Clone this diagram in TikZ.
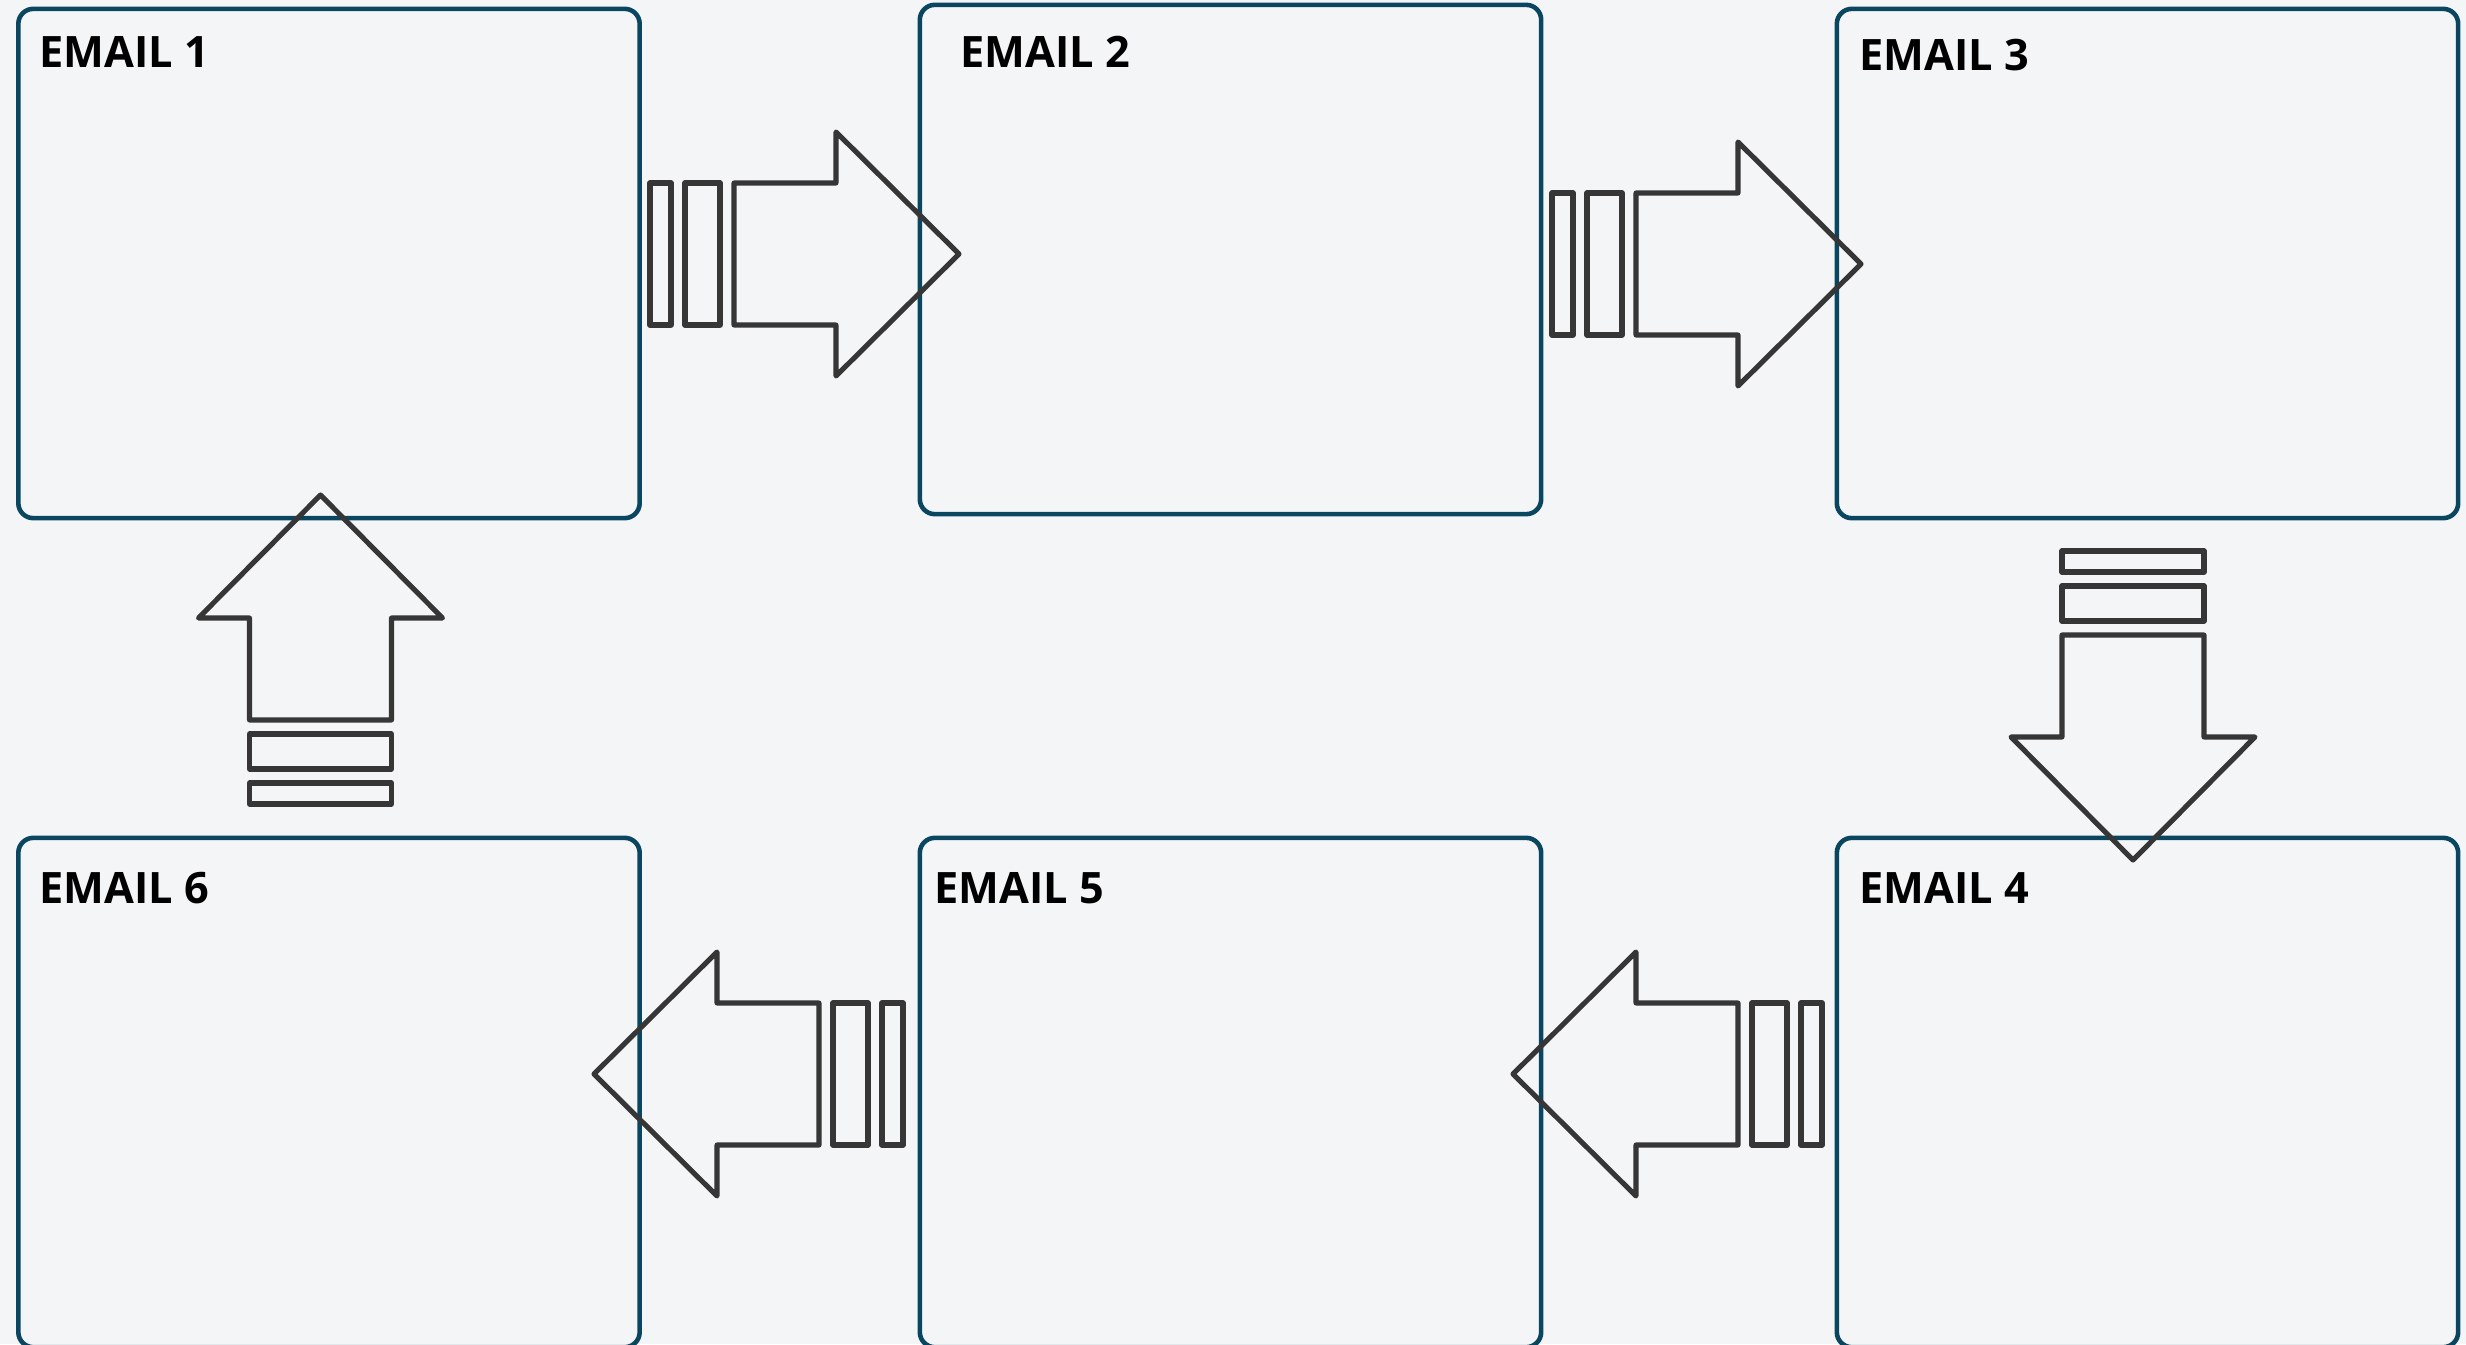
\documentclass[tikz,border=0pt]{standalone}
\usepackage{fontspec}
\setsansfont{Open Sans}
\usetikzlibrary{positioning, calc}
\definecolor{boxblue}{HTML}{0B4660}
\definecolor{paper}{HTML}{F3F5F7}
\definecolor{arrowgray}{HTML}{363636}

% block arrow with two bars behind it, pointing right, origin at the back bar
\tikzset{
  flow/.pic={
    \draw[outline] (0,-71) rectangle (21,71);
    \draw[outline] (35,-71) rectangle (70,71);
    \draw[outline] (84,-71) -- (186,-71) -- (186,-122) -- (309,0)
                   -- (186,122) -- (186,71) -- (84,71) -- cycle;
  }
}

\begin{document}
\begin{tikzpicture}[x=0.01cm, y=0.01cm,
    mailbox/.style={draw=boxblue, line width=1.3pt, rounded corners=0.15cm,
                    minimum width=6.21cm, minimum height=5.09cm},
    title/.style={anchor=base west, inner sep=0pt,
                  font=\sffamily\bfseries\fontsize{12.3}{14}\selectfont},
    outline/.style={draw=arrowgray, line width=1.45pt, line join=round}]
    \useasboundingbox (0,0) rectangle (2466,1344);
    \fill[paper] (0,0) rectangle (2466,1344);

    % top row
    \node[mailbox] (e1) at (329,1080.5) {};
    \node[mailbox] (e2) at (1230.5,1084.5) {};
    \node[mailbox] (e3) at (2147.5,1080.5) {};
    % bottom row
    \node[mailbox] (e4) at (2147.5,251.5) {};
    \node[mailbox] (e5) at (1230.5,251.5) {};
    \node[mailbox] (e6) at (329,251.5) {};

    \node[title] (t1) at (39,1276) {EMAIL 1};
    \node[title] (t2) at (960,1276) {EMAIL 2};
    \node[title] (t3) at (1859,1273) {EMAIL 3};
    \node[title] (t4) at (1859,441) {EMAIL 4};
    \node[title] (t5) at (934,441) {EMAIL 5};
    \node[title] (t6) at (39,441) {EMAIL 6};

    % arrows going round the loop
    \pic at (650,1090) {flow};
    \pic at (1552,1080) {flow};
    \pic[rotate=-90] at (2133,793) {flow};
    \pic[rotate=180] at (1822,270) {flow};
    \pic[rotate=180] at (903,270) {flow};
    \pic[rotate=90] at (320.5,540) {flow};
\end{tikzpicture}
\end{document}
